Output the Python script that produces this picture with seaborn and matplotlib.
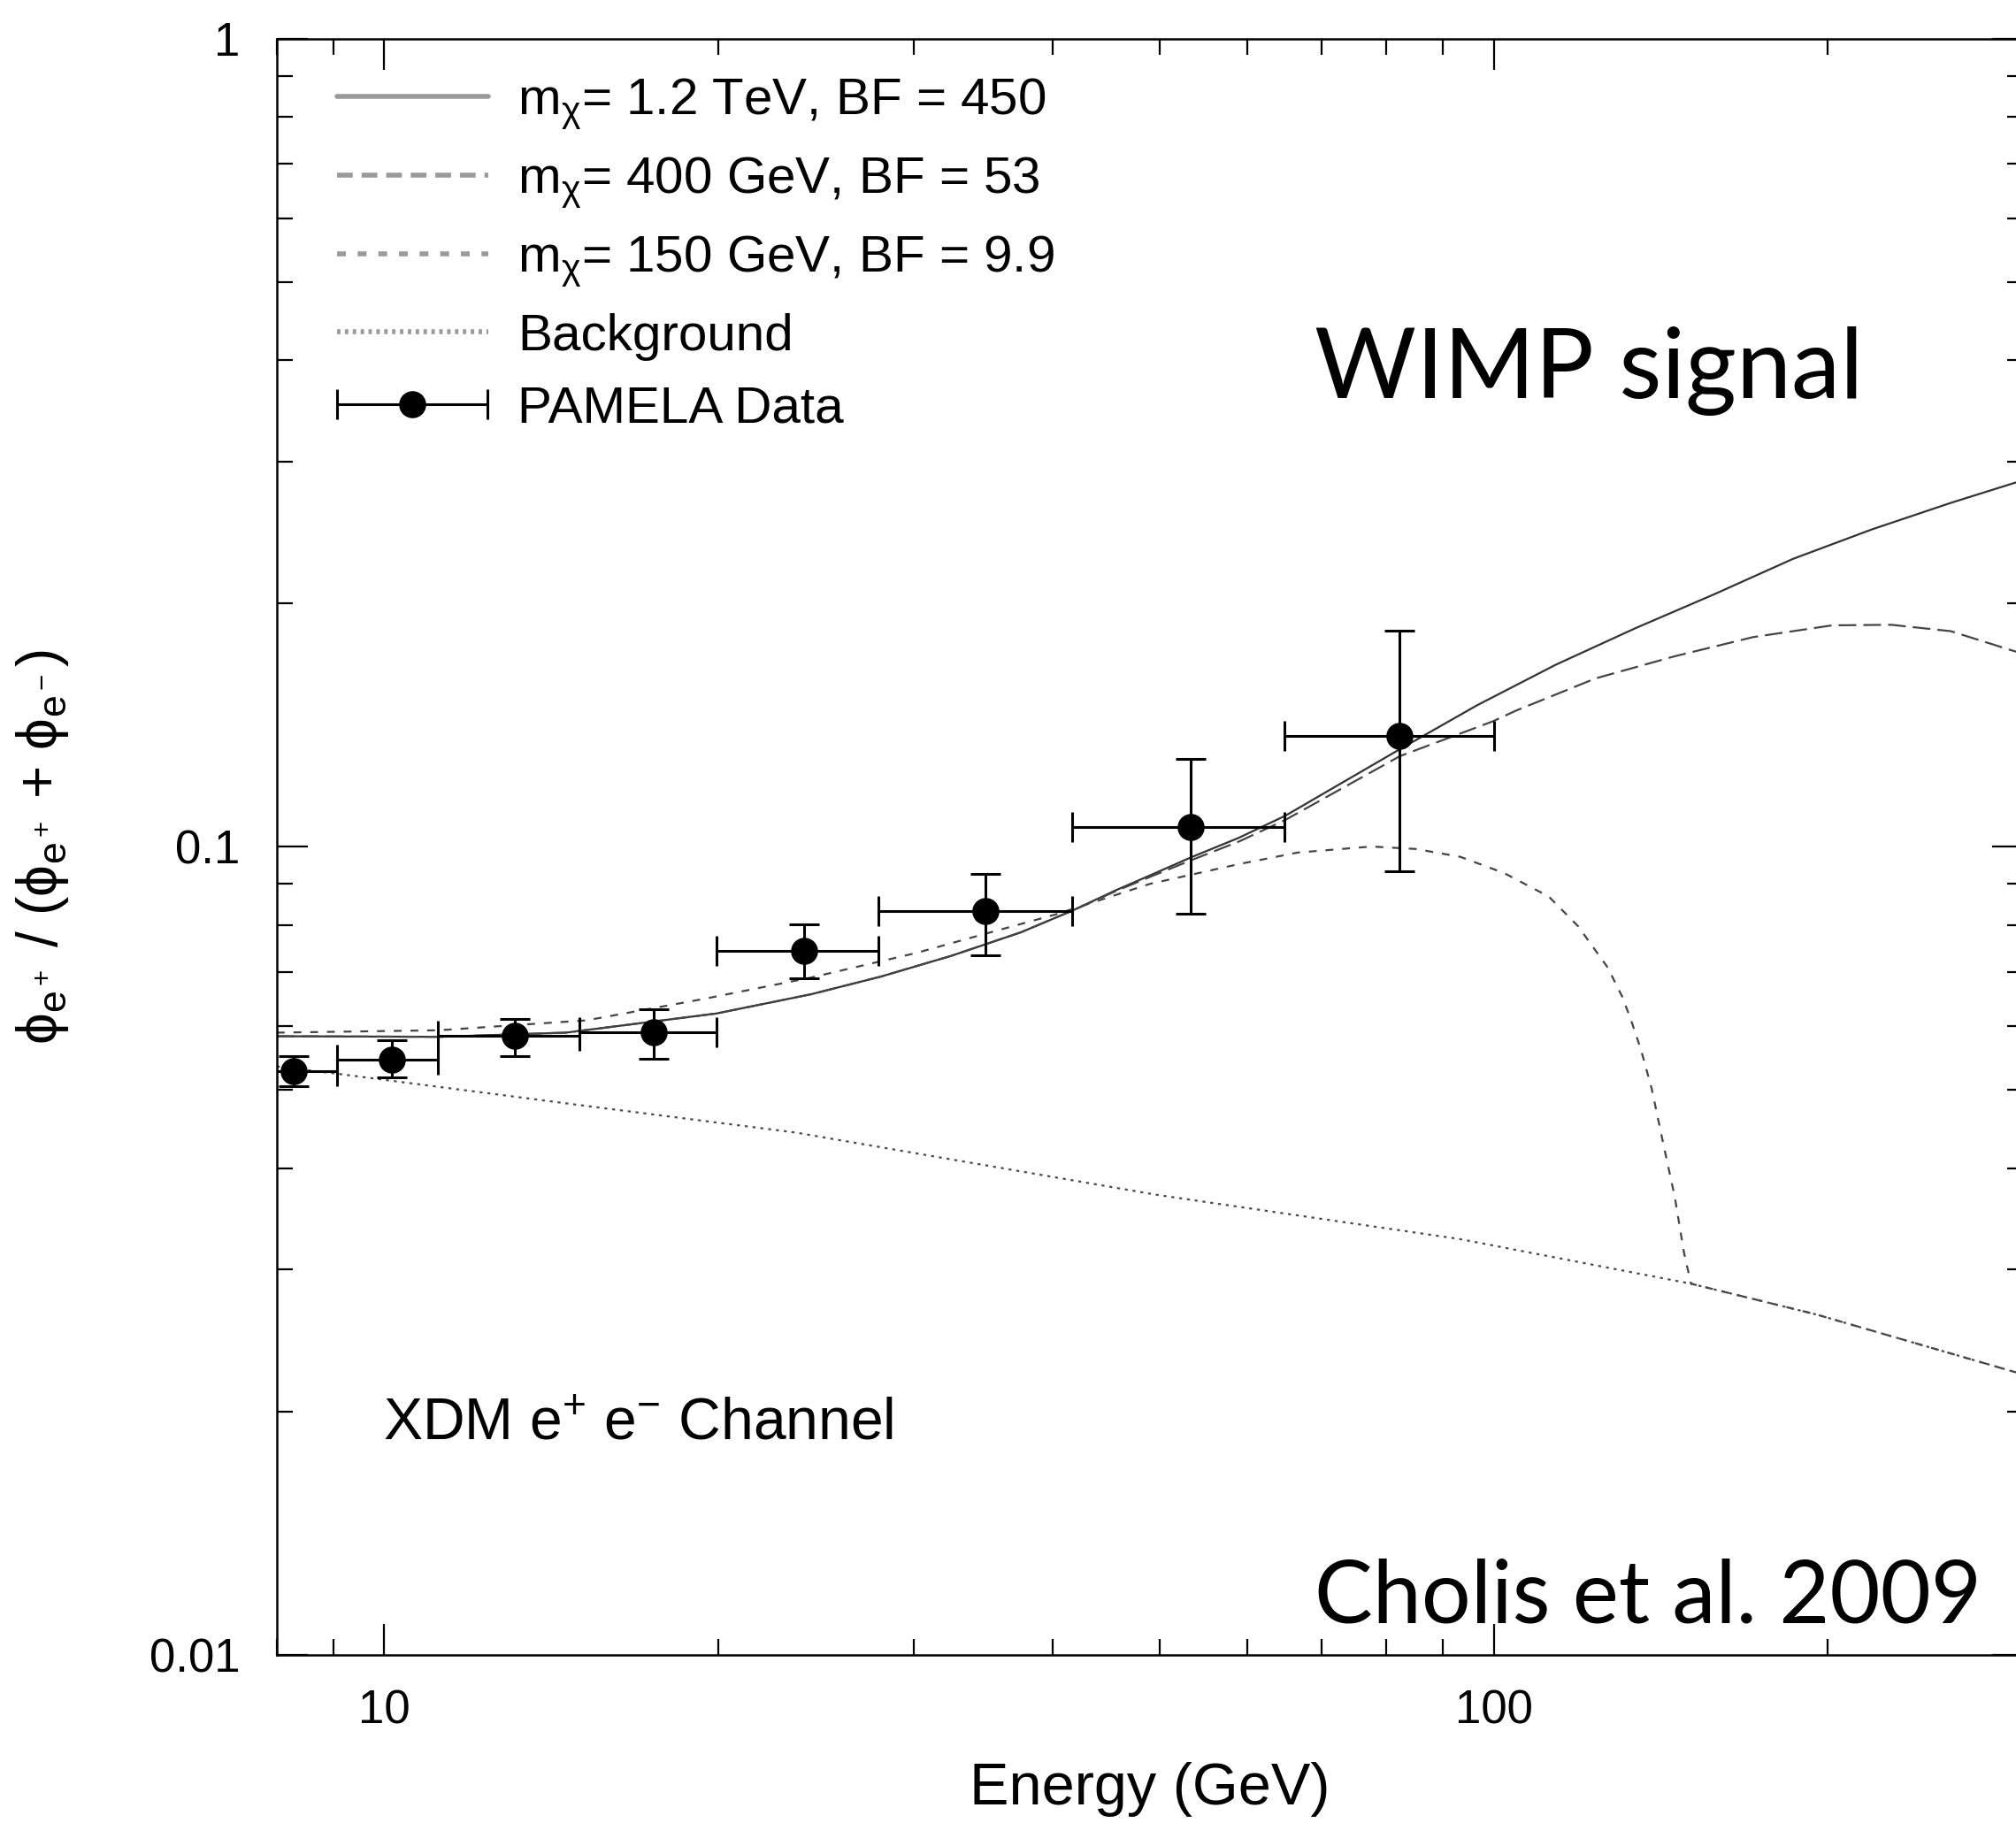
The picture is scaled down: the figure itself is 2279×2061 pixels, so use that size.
import numpy as np
import pandas as pd
import matplotlib
matplotlib.use("Agg")
import matplotlib.pyplot as plt
import seaborn as sns
from matplotlib.ticker import FixedLocator, FixedFormatter, NullFormatter
from matplotlib.container import ErrorbarContainer
from matplotlib.legend_handler import HandlerErrorbar

# ---------------- data ----------------
# PAMELA positron fraction
pamela_E = [8.28, 10.15, 13.1, 17.5, 23.9, 34.8, 53.3, 82.3]
pamela_frac = [0.0528, 0.0546, 0.0584, 0.0589, 0.0744, 0.0832, 0.1057, 0.1371]
pamela_lo = [0.0506, 0.0518, 0.0551, 0.0547, 0.0687, 0.0735, 0.0826, 0.0934]
pamela_hi = [0.0551, 0.0576, 0.0613, 0.0630, 0.0801, 0.0925, 0.1284, 0.1851]
bin_lo = [7.4, 9.06, 11.17, 14.98, 19.92, 27.9, 41.7, 64.8]
bin_hi = [9.06, 11.17, 14.98, 19.92, 27.9, 41.7, 64.8, 100.0]

# m_chi = 1.2 TeV, BF = 450
E_1200 = [8.0, 11.2, 14.58, 19.92, 24.24, 28.03, 32.43, 37.49, 41.8, 45.5, 49.0, 53.3, 58.9, 64.9, 82.3,
          96.6, 113.7, 134.1, 157.9, 186.1, 219.2, 258.2, 296.1, 300.0]
f_1200 = [0.0583, 0.0582, 0.0589, 0.0622, 0.0657, 0.0691, 0.0733, 0.0784, 0.0835, 0.0882, 0.0922, 0.0970, 0.1026, 0.1093, 0.1321,
          0.1497, 0.1680, 0.1864, 0.2053, 0.2272, 0.2471, 0.2665, 0.2827, 0.2845]

# m_chi = 400 GeV, BF = 53
E_400 = [8.0, 11.2, 14.58, 19.92, 24.24, 28.03, 32.43, 37.49, 41.8, 45.5, 49.0, 53.3, 58.9, 64.9, 82.3,
         99.8, 104.8, 123.5, 145.5, 171.3, 201.9, 228.2, 258.2, 296.0, 300.0]
f_400 = [0.0583, 0.0582, 0.0589, 0.0622, 0.0657, 0.0691, 0.0733, 0.0784, 0.0835, 0.0880, 0.0918, 0.0962, 0.1015, 0.1080, 0.1295,
         0.1430, 0.1475, 0.1616, 0.1721, 0.1818, 0.1880, 0.1883, 0.1849, 0.1743, 0.1730]

# m_chi = 150 GeV, BF = 9.9
E_150 = [8.0, 11.2, 15.22, 19.48, 24.24, 30.15, 34.85, 40.3, 49.0, 58.9, 66.6, 77.6, 85.1, 93.3, 102.2, 112.1,
         119.1, 126.7, 130.6, 133.0, 135.8, 138.8, 142.5, 145.6, 148.4, 150.6, 195.0, 296.0, 300.0]
f_150 = [0.0589, 0.0593, 0.0610, 0.0649, 0.0689, 0.0739, 0.0781, 0.0825, 0.0900, 0.0952, 0.0984, 0.1001, 0.0994, 0.0972, 0.0928, 0.0868,
         0.0798, 0.0709, 0.0652, 0.0610, 0.0560, 0.0502, 0.0423, 0.0369, 0.0315, 0.0288, 0.0264, 0.02236, 0.0222]

# Background
E_bg = [8.0, 9.06, 15.2, 23.5, 49.7, 93.3, 150.6, 195.0, 296.0, 300.0]
f_bg = [0.0535, 0.0524, 0.0478, 0.0443, 0.0371, 0.0327, 0.0288, 0.0264, 0.02236, 0.0222]

labels = [r"m$_{\mathrm{\chi}}$= 1.2 TeV, BF = 450",
          r"m$_{\mathrm{\chi}}$= 400 GeV, BF = 53",
          r"m$_{\mathrm{\chi}}$= 150 GeV, BF = 9.9",
          "Background"]
x_ticks = [10, 100]
x_ticklabels = ["10", "100"]
y_ticks = [0.01, 0.1, 1]
y_ticklabels = ["0.01", "0.1", "1"]

# ---------------- style ----------------
sns.set_style("white")
plt.rcParams["font.family"] = ["Liberation Sans", "DejaVu Sans"]
plt.rcParams["mathtext.fontset"] = "custom"
plt.rcParams["mathtext.rm"] = "Liberation Sans"
plt.rcParams["mathtext.it"] = "Liberation Sans:italic"
plt.rcParams["mathtext.sf"] = "Liberation Sans"
plt.rcParams["mathtext.bf"] = "Liberation Sans:bold"
for k in ["text.color", "axes.labelcolor", "xtick.color", "ytick.color", "axes.edgecolor"]:
    plt.rcParams[k] = "black"

fig = plt.figure(figsize=(22.79, 20.61), dpi=100)
ax = fig.add_axes([0.1373, 0.0922, 0.8662, 0.8865])
ax.set_xscale("log")
ax.set_yscale("log")

lw = 1.6
sns.lineplot(x=E_1200, y=f_1200, ax=ax, color="#333333", lw=lw,
             estimator=None, sort=False, label=labels[0])
sns.lineplot(x=E_400, y=f_400, ax=ax, color="#444444", lw=lw,
             linestyle=(0, (9, 3.6)), estimator=None, sort=False, label=labels[1])
sns.lineplot(x=E_150, y=f_150, ax=ax, color="#444444", lw=lw,
             linestyle=(0, (4, 4.5)), estimator=None, sort=False, label=labels[2])
sns.lineplot(x=E_bg, y=f_bg, ax=ax, color="#4a4a4a", lw=lw,
             linestyle=(0, (1.5, 2.5)), estimator=None, sort=False, label=labels[3])

E = np.array(pamela_E)
F = np.array(pamela_frac)
xerr = np.vstack([E - np.array(bin_lo), np.array(bin_hi) - E])
yerr = np.vstack([F - np.array(pamela_lo), np.array(pamela_hi) - F])
ax.errorbar(E, F, xerr=xerr, fmt="o", color="black", ms=21, elinewidth=2.2,
            capsize=12, capthick=2.2, label="PAMELA Data", zorder=5)
ax.errorbar(E, F, yerr=yerr, fmt="none", ecolor="black", elinewidth=2.2,
            capsize=12, capthick=2.2, zorder=5)

ax.set_xlim(8, 300)
ax.set_ylim(0.01, 1)
ax.xaxis.set_major_locator(FixedLocator(x_ticks))
ax.xaxis.set_major_formatter(FixedFormatter(x_ticklabels))
ax.xaxis.set_minor_formatter(NullFormatter())
ax.yaxis.set_major_locator(FixedLocator(y_ticks))
ax.yaxis.set_major_formatter(FixedFormatter(y_ticklabels))
ax.yaxis.set_minor_formatter(NullFormatter())
ax.tick_params(which="both", direction="in", top=True, right=True, bottom=True, left=True,
               color="black", width=1.6)
ax.tick_params(which="major", length=25, labelsize=38)
ax.tick_params(which="minor", length=13)
ax.tick_params(axis="x", which="major", pad=28)
ax.tick_params(axis="y", which="major", pad=30)
for s in ax.spines.values():
    s.set_color("black")
    s.set_linewidth(1.8)

ax.set_xlabel("Energy (GeV)", fontsize=48)
ax.set_ylabel(r"$\mathrm{\phi_{e^+}}$ / ($\mathrm{\phi_{e^+}}$ + $\mathrm{\phi_{e^-}}$)", fontsize=46)
ax.xaxis.set_label_coords(0.5, -0.066)
ax.yaxis.set_label_coords(-0.118, 0.5)

leg = ax.legend(loc="upper left", bbox_to_anchor=(0.0344, 0.9765), frameon=False,
                fontsize=42, handlelength=2.93, handletextpad=0.57, borderpad=0,
                borderaxespad=0, labelspacing=0.47,
                handler_map={ErrorbarContainer: HandlerErrorbar(xerr_size=1.46)})
leg_styles = ["-", (0, (3.2, 1.8)), (0, (1.8, 2.4)), (0, (0.7, 0.9))]
for line, st in zip(leg.get_lines()[:4], leg_styles):
    line.set_color("#9a9a9a")
    line.set_linewidth(4)
    line.set_linestyle(st)

ax.text(0.0608, 0.133, r"XDM e$^{+}$ e$^{-}$ Channel", transform=ax.transAxes,
        fontsize=47.5, ha="left", va="baseline")
ax.text(0.594, 0.778, "WIMP signal", transform=ax.transAxes,
        fontsize=80, family="Lato", ha="left", va="baseline", color="black")
ax.text(0.594, 0.020, "Cholis et al. 2009", transform=ax.transAxes,
        fontsize=71, family="Lato", ha="left", va="baseline", color="black")

fig.savefig("out.png", dpi=100)
